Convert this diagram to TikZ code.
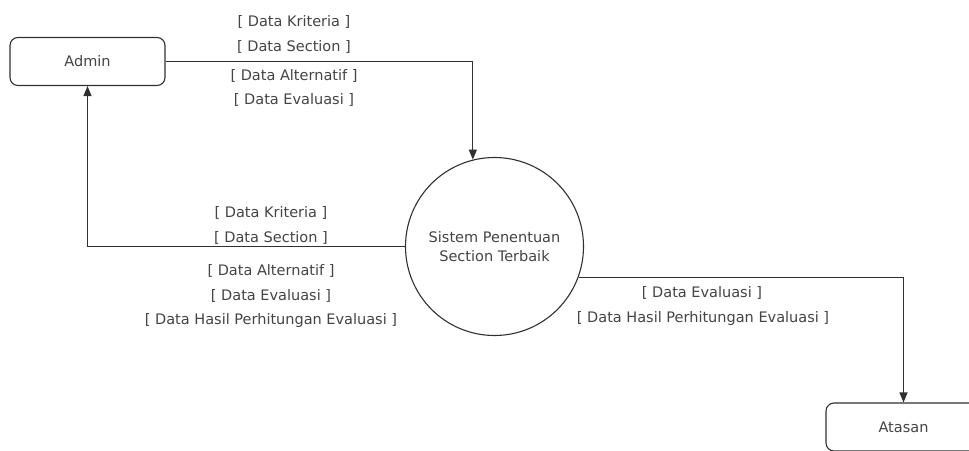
\documentclass[tikz,border=0pt]{standalone}
\usepackage{fontspec}
\setmainfont{DejaVu Sans}
\usetikzlibrary{arrows.meta}
\definecolor{linecol}{HTML}{303030}
\definecolor{txtcol}{HTML}{444444}
\tikzset{
  ent/.style={draw=linecol, line width=1.1pt, rounded corners=8pt, minimum width=155pt, minimum height=48pt, inner sep=0pt, text=txtcol, font=\fontsize{14.5}{16}\selectfont},
  proc/.style={draw=linecol, line width=1.1pt, circle, minimum size=178pt, inner sep=0pt, text=txtcol, align=center, font=\fontsize{14.5}{19}\selectfont},
  flow/.style={draw=linecol, line width=1.1pt, -{Triangle[length=10pt,width=8pt]}},
  lbl/.style={text=txtcol, inner sep=0pt, font=\fontsize{14.5}{16}\selectfont},
}
\begin{document}
\begin{tikzpicture}[x=1pt,y=-1pt]
\useasboundingbox[fill=white] (0,0) rectangle (969,450);
\node[ent] (admin) at (87.5,61.5) {Admin};
\node[proc] (sys) at (494.5,246.5) {Sistem Penentuan\\Section Terbaik};
\node[ent] (atasan) at (903.5,427) {Atasan};
\draw[flow] (admin.east) -| (sys.104.6);
\draw[flow] (sys.west) -| (admin.south);
\draw[flow] (sys.-20.4) -| (atasan.north);
% top labels
\node[lbl] (t1) at (294,22) {[ Data Kriteria ]};
\node[lbl] (t2) at (294,47) {[ Data Section ]};
\node[lbl] (t3) at (294,76) {[ Data Alternatif ]};
\node[lbl] (t4) at (294,100) {[ Data Evaluasi ]};
% left labels
\node[lbl] (m1) at (271,213) {[ Data Kriteria ]};
\node[lbl] (m2) at (271,238) {[ Data Section ]};
\node[lbl] (m3) at (271,271) {[ Data Alternatif ]};
\node[lbl] (m4) at (271,296) {[ Data Evaluasi ]};
\node[lbl] (m5) at (271,320) {[ Data Hasil Perhitungan Evaluasi ]};
% right labels
\node[lbl] (r1) at (702,293) {[ Data Evaluasi ]};
\node[lbl] (r2) at (703,318) {[ Data Hasil Perhitungan Evaluasi ]};
\end{tikzpicture}
\end{document}
